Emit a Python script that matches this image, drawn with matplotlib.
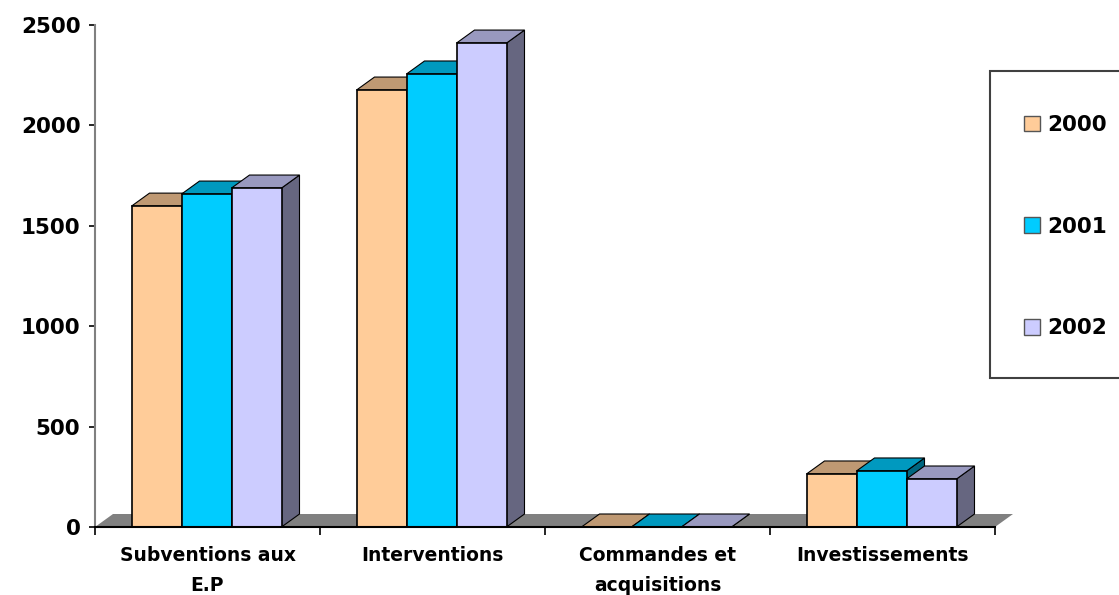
import matplotlib
matplotlib.use("Agg")
import numpy as np
from matplotlib import pyplot as plt
from matplotlib.patches import Polygon, Rectangle

categories = ["Subventions aux\nE.P", "Interventions", "Commandes et\nacquisitions", "Investissements"]
years = ["2000", "2001", "2002"]
v2000 = [1598, 2176, 0, 264]
v2001 = [1658, 2256, 0, 279]
v2002 = [1688, 2410, 0, 239]
yticks = [0, 500, 1000, 1500, 2000, 2500]

front = ["#FFCC99", "#00CCFF", "#CCCCFF"]
top = ["#BF9973", "#0099BF", "#9999BF"]
side = ["#806650", "#006680", "#666680"]

W, H = 1119, 595
plt.rcParams["font.family"] = "DejaVu Sans"
plt.rcParams["font.weight"] = "bold"
fig = plt.figure(figsize=(W / 100, H / 100), dpi=100)
ax = fig.add_axes([95 / W, 1 - 527 / H, 900 / W, 502 / H])
ax.set_xlim(-0.5, 3.5)
ax.set_ylim(0, 2500)

# fake 3d depth, in data units
dx = 18 / 225
dy = 13 / (502 / 2500)
bw = 50 / 225
nudge = -1 / 225

ax.add_patch(Polygon([(-0.5, 0), (3.5, 0), (3.5 + dx, dy), (-0.5 + dx, dy)],
                     fc="#808080", ec="none", clip_on=False, zorder=1))

z = 2
for s, vals in enumerate([v2000, v2001, v2002]):
    for i, v in enumerate(vals):
        x0 = i + (s - 1.5) * bw + nudge
        x1 = x0 + bw
        ax.add_patch(Polygon([(x1, 0), (x1 + dx, dy), (x1 + dx, v + dy), (x1, v)],
                             fc=side[s], ec="black", lw=0.8, clip_on=False, zorder=z))
        ax.add_patch(Polygon([(x0, v), (x1, v), (x1 + dx, v + dy), (x0 + dx, v + dy)],
                             fc=top[s], ec="black", lw=0.8, clip_on=False, zorder=z))
        ax.add_patch(Rectangle((x0, 0), bw, v, fc=front[s], ec="black", lw=1.2,
                               clip_on=False, zorder=z + 0.1))
    z += 1

for sp in ["top", "right"]:
    ax.spines[sp].set_visible(False)
ax.spines["left"].set_color("#808080")
ax.spines["left"].set_linewidth(1.5)
ax.spines["bottom"].set_linewidth(1.5)
ax.spines["bottom"].set_zorder(8)

ax.set_yticks(yticks)
ax.tick_params(axis="y", length=4.5, width=1.2, pad=6, labelsize=15.5)
ax.set_xticks([-0.5, 0.5, 1.5, 2.5, 3.5])
ax.set_xticklabels([])
ax.set_xticks(range(4), minor=True)
ax.set_xticklabels(categories, minor=True, fontsize=13.5, linespacing=1.7)
ax.tick_params(axis="x", which="major", length=6, width=1.2)
ax.tick_params(axis="x", which="minor", length=0, pad=14)

# legend box runs off the right edge
fig.add_artist(Rectangle((990 / W, 1 - 378 / H), 200 / W, 307 / H, fc="white", ec="#404040",
                         lw=1.5, transform=fig.transFigure))
handles = [Rectangle((0, 0), 1, 1, fc=front[i], ec="#555555", lw=1.0) for i in range(3)]
fig.legend(handles, years, frameon=False, loc="upper left", bbox_to_anchor=(1024 / W, 1 - 115 / H),
           borderpad=0, borderaxespad=0, fontsize=15.5, handlelength=0.75, handleheight=0.75,
           handletextpad=0.35, labelspacing=3.79)

fig.savefig("out.png", dpi=100)
